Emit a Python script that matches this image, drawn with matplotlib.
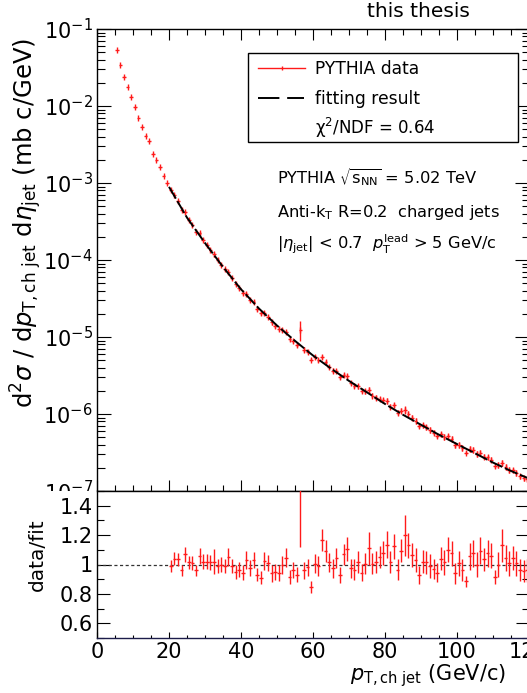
import numpy as np
import matplotlib
matplotlib.use("Agg")
import matplotlib.pyplot as plt
from matplotlib.ticker import MultipleLocator, LogLocator, NullFormatter, FuncFormatter, FixedLocator
from matplotlib.patches import Rectangle
from matplotlib.lines import Line2D

# ---------------- data ----------------
pt_centers = np.arange(5.5, 120.0, 1.0)          # 1 GeV/c bins, 5-120 GeV/c
xsec = [
    5.3e-2, 3.4e-2, 2.4e-2, 1.77e-2, 1.32e-2, 9.6e-3, 7.0e-3, 5.4e-3, 4.1e-3, 3.5e-3,
    2.4e-3, 1.97e-3, 1.60e-3, 1.24e-3, 9.9e-4,
    8.04e-4, 7.03e-4, 5.82e-4, 4.49e-4, 4.16e-4, 3.34e-4, 2.85e-4, 2.33e-4, 2.21e-4, 1.83e-4,
    1.58e-4, 1.36e-4, 1.19e-4, 9.97e-5, 8.73e-5, 7.53e-5, 6.99e-5, 5.76e-5, 4.84e-5, 4.30e-5,
    3.72e-5, 3.61e-5, 3.05e-5, 2.87e-5, 2.31e-5, 2.03e-5, 2.06e-5, 1.84e-5, 1.55e-5, 1.41e-5,
    1.27e-5, 1.22e-5, 1.17e-5, 9.36e-6, 8.96e-6, 7.93e-6, 1.25e-5, 6.88e-6, 6.43e-6, 5.08e-6,
    5.56e-6, 5.07e-6, 5.51e-6, 4.77e-6, 4.11e-6, 3.66e-6, 3.64e-6, 3.01e-6, 3.22e-6, 3.09e-6,
    2.54e-6, 2.34e-6, 2.31e-6, 2.00e-6, 1.98e-6, 2.04e-6, 1.73e-6, 1.63e-6, 1.57e-6, 1.51e-6,
    1.48e-6, 1.24e-6, 1.29e-6, 1.04e-6, 1.11e-6, 1.14e-6, 1.01e-6, 8.96e-7, 8.16e-7, 6.94e-7,
    7.17e-7, 6.72e-7, 6.18e-7, 5.70e-7, 5.23e-7, 5.43e-7, 5.02e-7, 5.14e-7, 4.76e-7, 3.94e-7,
    4.00e-7, 3.62e-7, 3.14e-7, 3.54e-7, 3.42e-7, 3.01e-7, 3.11e-7, 2.79e-7, 2.74e-7, 2.56e-7,
    2.09e-7, 2.17e-7, 2.33e-7, 2.05e-7, 1.89e-7, 1.86e-7, 1.72e-7, 1.56e-7, 1.47e-7, 1.42e-7,
]
low_pt_relerr = [0.008, 0.008, 0.009, 0.009, 0.010, 0.010, 0.011, 0.011, 0.012, 0.012,
                 0.013, 0.013, 0.014, 0.014, 0.015]

fit_pt = [20, 25, 30, 35, 40, 45, 50, 55, 60, 65, 70, 75, 80, 85, 90, 95, 100, 105, 110, 115, 120]
fit_xsec = [8.91e-4, 3.55e-4, 1.66e-4, 8.13e-5, 4.17e-5, 2.34e-5, 1.41e-5, 8.91e-6, 5.75e-6,
            3.89e-6, 2.69e-6, 1.91e-6, 1.35e-6, 9.77e-7, 7.24e-7, 5.37e-7, 4.07e-7, 3.09e-7,
            2.34e-7, 1.82e-7, 1.45e-7]

ratio_pt = np.arange(20.5, 120.0, 1.0)
ratio = [
    0.99, 1.04, 1.035, 0.96, 1.07, 1.015, 1.01, 0.96, 1.06, 1.02,
    1.02, 1.015, 1.02, 0.99, 1.00, 0.99, 1.05, 0.99, 0.95, 0.965,
    0.945, 1.03, 0.975, 1.03, 0.93, 0.91, 1.025, 1.01, 0.94, 0.95,
    0.945, 0.995, 1.045, 0.915, 0.96, 0.93, 1.60, 0.96, 0.98, 0.845,
    1.005, 0.99, 1.165, 1.09, 1.015, 0.975, 1.045, 0.93, 1.07, 1.105,
    0.975, 0.965, 1.02, 0.945, 1.005, 1.11, 1.005, 1.015, 1.05, 1.08,
    1.135, 1.015, 1.125, 0.965, 1.095, 1.20, 1.13, 1.065, 1.03, 0.93,
    1.02, 1.015, 0.99, 0.97, 0.945, 1.04, 1.015, 1.10, 1.075, 0.94,
    1.01, 0.965, 0.885, 1.055, 1.075, 1.00, 1.095, 1.035, 1.075, 1.06,
    0.915, 1.00, 1.13, 1.045, 1.01, 1.045, 1.01, 0.96, 0.955, 0.96,
]
ratio_err = [
    0.040, 0.045, 0.045, 0.040, 0.050, 0.045, 0.045, 0.040, 0.055, 0.050,
    0.050, 0.050, 0.085, 0.050, 0.050, 0.050, 0.060, 0.050, 0.050, 0.050,
    0.050, 0.060, 0.055, 0.055, 0.045, 0.045, 0.060, 0.055, 0.060, 0.055,
    0.055, 0.060, 0.065, 0.050, 0.055, 0.050, 0.480, 0.060, 0.060, 0.040,
    0.065, 0.065, 0.075, 0.075, 0.065, 0.065, 0.070, 0.055, 0.070, 0.080,
    0.065, 0.070, 0.075, 0.060, 0.070, 0.110, 0.070, 0.075, 0.075, 0.080,
    0.090, 0.075, 0.085, 0.070, 0.080, 0.140, 0.085, 0.080, 0.080, 0.060,
    0.080, 0.080, 0.080, 0.070, 0.065, 0.080, 0.085, 0.085, 0.085, 0.070,
    0.085, 0.075, 0.040, 0.090, 0.090, 0.085, 0.090, 0.080, 0.090, 0.085,
    0.050, 0.085, 0.110, 0.090, 0.085, 0.080, 0.085, 0.075, 0.075, 0.080,
]

x_ticks = [0, 20, 40, 60, 80, 100, 120]
ratio_ticks = [0.6, 0.8, 1.0, 1.2, 1.4]

# ---------------- style ----------------
plt.rcParams['font.family'] = ['DejaVu Sans']
plt.rcParams['mathtext.fontset'] = 'dejavusans'

W, H = 527, 693
fig = plt.figure(figsize=(W / 100, H / 100), dpi=100)


def P(px, py):
    return (px / W, 1 - py / H)


RED = '#ff1a1a'
x0, x1 = 97, 529
ax1 = fig.add_axes([x0 / W, 1 - 491 / H, (x1 - x0) / W, (491 - 29) / H])
ax2 = fig.add_axes([x0 / W, 1 - 638 / H, (x1 - x0) / W, (638 - 491) / H])
ax1.set_zorder(0)
ax2.set_zorder(2)

# cover for the lower pad (as in the ROOT canvas)
cover = Rectangle((0, 0), 1, (693 - 491) / H, transform=fig.transFigure,
                  facecolor='white', edgecolor='none', zorder=1)
fig.add_artist(cover)

# ---------------- top panel ----------------
xs = np.asarray(xsec)
pts = np.asarray(pt_centers)
rel = np.concatenate([np.asarray(low_pt_relerr), np.asarray(ratio_err) / np.asarray(ratio)])
ax1.errorbar(pts, xs, xerr=0.5, yerr=xs * rel, fmt='none', ecolor=RED,
             elinewidth=1.0, capsize=0, zorder=3)
ax1.plot(pts, xs, ls='none', marker='|', ms=4, mew=1.0, color=RED, zorder=3)
ax1.plot(fit_pt, fit_xsec, color='black', lw=1.4, ls=(0, (7, 1.5)), zorder=4)

ax1.set_yscale('log')
ax1.set_xlim(0, 120)
ax1.set_ylim(1e-7, 1e-1)
ax1.xaxis.set_major_locator(FixedLocator(x_ticks))
ax1.xaxis.set_minor_locator(MultipleLocator(5))
ax1.yaxis.set_major_locator(LogLocator(base=10, numticks=12))
ax1.yaxis.set_minor_locator(LogLocator(base=10, subs=np.arange(2, 10), numticks=30))
ax1.yaxis.set_minor_formatter(NullFormatter())
ax1.tick_params(which='both', direction='in', top=True, right=True, labelbottom=False,
                width=0.8, color='black')
ax1.tick_params(axis='y', which='major', length=10, labelsize=15, pad=3)
ax1.tick_params(axis='y', which='minor', length=5.4)
ax1.tick_params(axis='x', which='major', length=7.7)
ax1.tick_params(axis='x', which='minor', length=4.1)
for s in ax1.spines.values():
    s.set_linewidth(1.0)

# ---------------- ratio panel ----------------
ax2.axhline(1.0, color='#333333', lw=0.9, ls=(0, (2.5, 2)), zorder=2)
ax2.errorbar(ratio_pt, ratio, xerr=0.5, yerr=ratio_err, fmt='none', ecolor=RED,
             elinewidth=1.0, capsize=0, zorder=3)
ax2.set_xlim(0, 120)
ax2.set_ylim(0.5, 1.5)
ax2.xaxis.set_major_locator(FixedLocator(x_ticks))
ax2.xaxis.set_minor_locator(MultipleLocator(5))
ax2.yaxis.set_major_locator(FixedLocator(ratio_ticks))
ax2.yaxis.set_minor_locator(MultipleLocator(0.1))
ax2.yaxis.set_major_formatter(FuncFormatter(lambda v, p: f"{v:g}"))
ax2.xaxis.set_major_formatter(FuncFormatter(lambda v, p: f"{v:g}"))
ax2.tick_params(which='both', direction='in', right=True, top=False, width=0.8)
ax2.tick_params(axis='y', which='major', length=9.1, labelsize=15, pad=3)
ax2.tick_params(axis='y', which='minor', length=4.8)
ax2.tick_params(axis='x', which='major', length=4.3, labelsize=15, pad=3)
ax2.tick_params(axis='x', which='minor', length=2.5)
for s in ax2.spines.values():
    s.set_linewidth(1.0)
ax2.spines['bottom'].set_color('#1c1c4a')

# ---------------- axis titles ----------------
fig.text(*P(26, 38), r"d$^{2}\sigma$ / d$p_{\mathrm{T,ch\ jet}}$ d$\eta_{\mathrm{jet}}$ (mb c/GeV)",
         rotation=90, ha='center', va='top', fontsize=17.5, zorder=5)
fig.text(*P(37, 555), "data/fit", rotation=90, ha='center', va='center', fontsize=14.5, zorder=5)
fig.text(*P(506, 680), r"$p_{\mathrm{T,ch\ jet}}$ (GeV/c)", ha='right', va='baseline',
         fontsize=15, zorder=5)
fig.text(*P(367, 17), "this thesis", ha='left', va='baseline', fontsize=14.5, zorder=5)

# ---------------- legend ----------------
box = Rectangle(P(248, 142), (518 - 248) / W, (142 - 53) / H, transform=fig.transFigure,
                facecolor='white', edgecolor='black', lw=1.0, zorder=4)
fig.add_artist(box)
fig.add_artist(Line2D([258 / W, 305 / W], [1 - 68 / H, 1 - 68 / H], color=RED, lw=1.0,
                      transform=fig.transFigure, zorder=5))
fig.add_artist(Line2D([281.5 / W], [1 - 68 / H], color=RED, marker='|', ms=2.5, mew=1.0,
                      transform=fig.transFigure, zorder=5))
fig.add_artist(Line2D([258 / W, 304 / W], [1 - 98 / H, 1 - 98 / H], color='black', lw=1.4,
                      ls=(0, (11, 4)), transform=fig.transFigure, zorder=5))
fig.text(*P(315, 74), "PYTHIA data", ha='left', va='baseline', fontsize=12.3, zorder=6)
fig.text(*P(315, 104), "fitting result", ha='left', va='baseline', fontsize=12.3, zorder=6)
fig.text(*P(315, 134), r"$\mathrm{\chi}^{2}$/NDF = 0.64", ha='left', va='baseline',
         fontsize=12.0, zorder=6)

# ---------------- info text ----------------
fig.text(*P(277, 184), r"PYTHIA $\sqrt{\mathrm{s}_{\mathrm{NN}}}$ = 5.02 TeV", ha='left',
         va='baseline', fontsize=11.7, zorder=6)
fig.text(*P(277, 217), r"Anti-k$_{\mathrm{T}}$ R=0.2  charged jets", ha='left',
         va='baseline', fontsize=11.7, zorder=6)
fig.text(*P(277, 249), r"|$\eta_{\mathrm{jet}}$| < 0.7  $p_{\mathrm{T}}^{\mathrm{lead}}$ > 5 GeV/c",
         ha='left', va='baseline', fontsize=11.7, zorder=6)

fig.savefig("out.png", dpi=100)
